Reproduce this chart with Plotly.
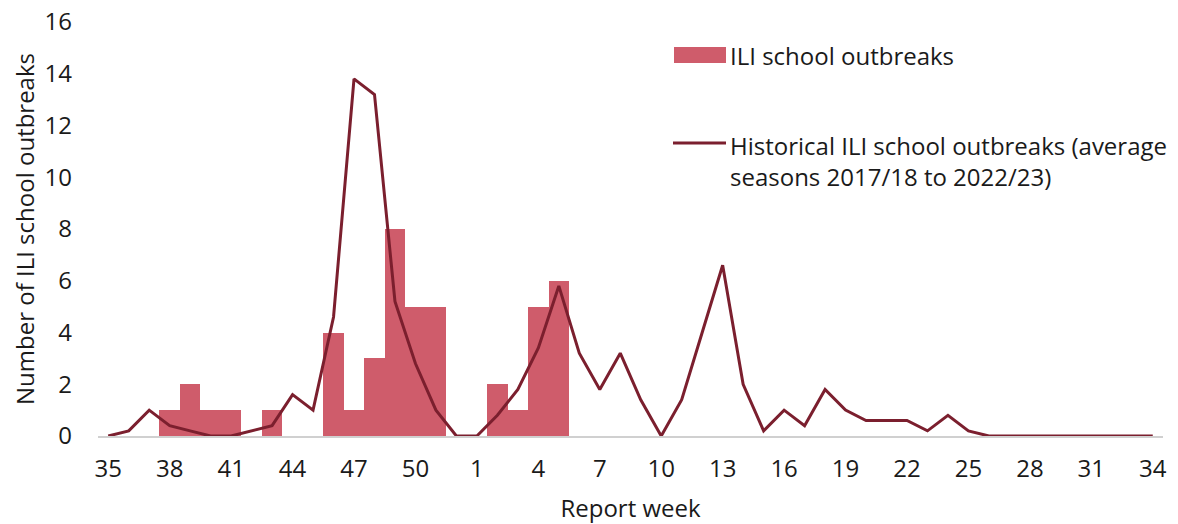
import plotly.graph_objects as go

weeks = [str(w) for w in list(range(35, 53)) + list(range(1, 35))]

outbreaks = [0, 0, 0, 1, 2, 1, 1, 0, 1, 0, 0, 4, 1, 3, 8, 5, 5, 0,
             0, 2, 1, 5, 6, 0, 0, 0, 0, 0, 0, 0, 0, 0, 0, 0, 0, 0, 0,
             0, 0, 0, 0, 0, 0, 0, 0, 0, 0, 0, 0, 0, 0, 0]

historical = [0, 0.2, 1.0, 0.4, 0.2, 0, 0, 0.2, 0.4, 1.6, 1.0, 4.6, 13.8, 13.2, 5.2, 2.8, 1.0, 0,
              0, 0.8, 1.8, 3.4, 5.8, 3.2, 1.8, 3.2, 1.4, 0, 1.4, 4.0, 6.6, 2.0, 0.2, 1.0,
              0.4, 1.8, 1.0, 0.6, 0.6, 0.6, 0.2, 0.8, 0.2, 0, 0, 0, 0, 0, 0, 0, 0, 0]

tick_weeks = weeks[::3]

bar_name = "ILI school outbreaks"
line_name = "Historical ILI school outbreaks (average<br>seasons 2017/18 to 2022/23)"

BAR_COLOR = "#CF5C6B"
LINE_COLOR = "#7B1F2E"
FONT = "Open Sans"
FS = 24
TXT = "#1a1a1a"

OFF = 8  # page body margin
W, H = 1170, 516
L, R, T, B = 90, 15, 14, 88
pw, ph = W - L - R, H - T - B

def px_x(x):
    return (x - OFF - L) / pw

def px_y(y):
    return (H - B - (y - OFF)) / ph

fig = go.Figure()
fig.add_trace(go.Bar(
    x=weeks, y=outbreaks, name=bar_name,
    marker=dict(color=BAR_COLOR, line=dict(width=0)),
    showlegend=False,
))
fig.add_trace(go.Scatter(
    x=weeks, y=historical, mode="lines", name=line_name,
    line=dict(color=LINE_COLOR, width=3),
    showlegend=False,
))

shapes = [
    dict(type="rect", xref="paper", yref="paper",
         x0=px_x(674), x1=px_x(726), y0=px_y(63), y1=px_y(47),
         fillcolor=BAR_COLOR, line=dict(width=0)),
    dict(type="line", xref="paper", yref="paper",
         x0=px_x(673), x1=px_x(726), y0=px_y(143), y1=px_y(143),
         line=dict(color=LINE_COLOR, width=3)),
]
annotations = [
    dict(text=bar_name, xref="paper", yref="paper", x=px_x(728), y=px_y(55),
         xanchor="left", yanchor="middle", showarrow=False,
         font=dict(family=FONT, size=FS, color=TXT)),
    dict(text=line_name, xref="paper", yref="paper", x=px_x(728), y=px_y(127),
         xanchor="left", yanchor="top", showarrow=False, align="left",
         font=dict(family=FONT, size=FS, color=TXT)),
]

fig.update_layout(
    width=W, height=H,
    margin=dict(l=L, r=R, t=T, b=B),
    paper_bgcolor="white", plot_bgcolor="white",
    bargap=0,
    font=dict(family=FONT, size=FS, color=TXT),
    showlegend=False,
    shapes=shapes,
    annotations=annotations,
    xaxis=dict(
        type="category", categoryorder="array", categoryarray=weeks,
        tickmode="array", tickvals=tick_weeks, ticktext=tick_weeks,
        range=[-0.5, 51.5],
        showline=True, linecolor="#d0d0d0", linewidth=2,
        showgrid=False, ticks="", tickfont=dict(size=FS),
        ticklabelstandoff=10, ticklabeloverflow="allow",
        title=dict(text="Report week", font=dict(size=FS), standoff=22),
        zeroline=False, automargin=False,
    ),
    yaxis=dict(
        range=[0, 16], tickmode="array", tickvals=list(range(0, 17, 2)),
        showgrid=False, zeroline=False, showline=False, ticks="",
        tickfont=dict(size=FS), ticklabelstandoff=25, ticklabeloverflow="allow",
        title=dict(text="Number of ILI school outbreaks", font=dict(size=FS), standoff=15),
        automargin=False,
    ),
)

fig.write_html("out.html")
